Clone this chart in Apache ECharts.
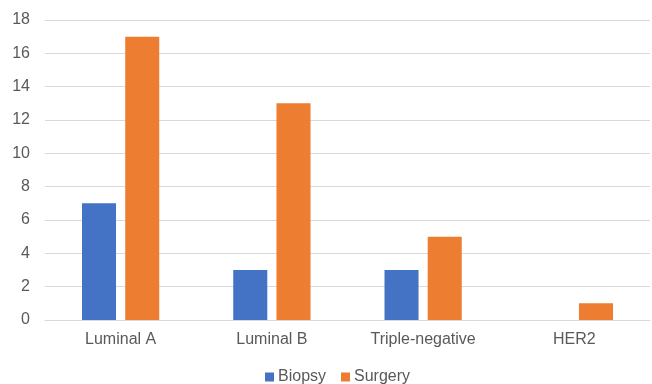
<!DOCTYPE html>
<html><head><meta charset="utf-8">
<script src="https://cdn.jsdelivr.net/npm/echarts@6/dist/echarts.min.js"></script>
<style>html,body{margin:0;padding:0;background:#fff}#c{width:652px;height:384px}</style>
</head><body><div id="c"></div>
<script>
const categories = ["Luminal A", "Luminal B", "Triple-negative", "HER2"];
const biopsy = [7, 3, 3, 0];
const surgery = [17, 13, 5, 1];
const yTicks = {min: 0, max: 18, interval: 2};

const chart = echarts.init(document.getElementById('c'));
const font = 'Liberation Sans, Arial, sans-serif';
chart.setOption({
  animation: false,
  grid: {left: 45, right: 2, top: 20, bottom: 64},
  legend: {
    top: 369, left: 265, padding: 0,
    itemWidth: 9, itemHeight: 9, itemGap: 15,
    icon: 'rect',
    textStyle: {color: '#595959', fontSize: 16, fontFamily: font, padding: [0,0,0,-1]},
    data: ['Biopsy', 'Surgery']
  },
  xAxis: {
    type: 'category', data: categories,
    axisLine: {lineStyle: {color: '#d9d9d9'}},
    axisTick: {show: false},
    axisLabel: {color: '#595959', fontSize: 16, fontFamily: font, margin: 12}
  },
  yAxis: {
    type: 'value', min: yTicks.min, max: yTicks.max, interval: yTicks.interval,
    axisLine: {show: false}, axisTick: {show: false},
    splitLine: {lineStyle: {color: '#d9d9d9'}},
    axisLabel: {color: '#595959', fontSize: 16, fontFamily: font, margin: 15}
  },
  series: [
    {name: 'Biopsy', type: 'bar', data: biopsy, barWidth: '22.5%', barGap: '27%',
     itemStyle: {color: '#4472C4'}},
    {name: 'Surgery', type: 'bar', data: surgery, barWidth: '22.5%', barGap: '27%',
     itemStyle: {color: '#ED7D31'}}
  ]
});
</script></body></html>
